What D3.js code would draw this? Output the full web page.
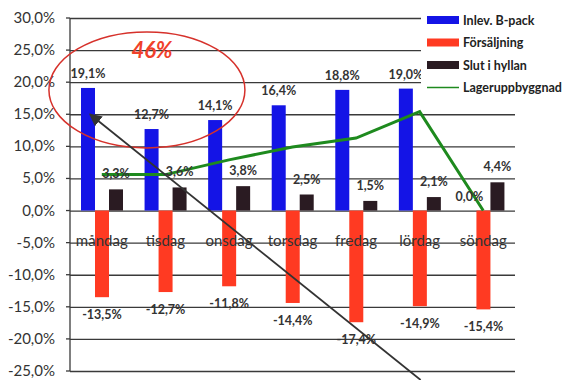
<!DOCTYPE html>
<html><head><meta charset="utf-8">
<script src="https://cdn.jsdelivr.net/npm/d3@7"></script>
<style>body{margin:0;background:#fff}svg{display:block}</style>
</head><body><svg id="c" width="567" height="380"></svg>
<script>
const categories = ["måndag","tisdag","onsdag","torsdag","fredag","lördag","söndag"];
const inlev = [19.1,12.7,14.1,16.4,18.8,19.0,0.0];
const forsaljning = [-13.5,-12.7,-11.8,-14.4,-17.4,-14.9,-15.4];
const slut = [3.3,3.6,3.8,2.5,1.5,2.1,4.4];
const lager = [5.6,5.6,7.9,9.9,11.3,15.4,0.0];
const seriesNames = ["Inlev. B-pack","Försäljning","Slut i hyllan","Lageruppbyggnad"];
const yTicks = [30,25,20,15,10,5,0,-5,-10,-15,-20,-25];
const annotationText = "46%";

(function(){
const colors = {"Inlev. B-pack":"#1414e6","Försäljning":"#ff3a22","Slut i hyllan":"#2a1b22","Lageruppbyggnad":"#1e8a1e"};
const svg = d3.select("#c");
const font = "Lato, 'Open Sans', sans-serif";
const loc = d3.formatLocale({decimal:",",thousands:" ",grouping:[3],currency:["",""],minus:"-"});
const f1 = loc.format(".1f");
const pct = v => f1(v) + "%";

const pLeft = 70, pRight = 515, pTop = 18, pBottom = 371;
const x = d3.scaleBand().domain(categories).range([pLeft, pRight]).padding(0);
const barSeries = seriesNames.slice(0,3);
const xs = d3.scaleBand().domain(barSeries).range([11, 53]).padding(0);
const y = d3.scaleLinear().domain([-25,30]).range([pBottom, pTop]);

// grid
const grid = svg.append("g").attr("transform",`translate(${pLeft},0)`)
  .call(d3.axisLeft(y).tickValues(yTicks).tickSize(-(pRight-pLeft)).tickSizeOuter(0).tickFormat(""));
grid.select(".domain").remove();
grid.selectAll("line").attr("stroke","#3a3a3a").attr("stroke-width",1.3);
svg.append("g").selectAll("line").data(yTicks).join("line")
  .attr("x1",pLeft-4).attr("x2",pLeft).attr("y1",d=>y(d)).attr("y2",d=>y(d)).attr("stroke","#3a3a3a").attr("stroke-width",1.3);
svg.append("line").attr("x1",pLeft).attr("x2",pLeft).attr("y1",y(30)).attr("y2",y(-25)).attr("stroke","#3a3a3a").attr("stroke-width",1.3);
svg.append("g").selectAll("text").data(yTicks).join("text")
  .attr("x",55).attr("y",d=>y(d)+5).attr("text-anchor","end")
  .attr("font-family",font).attr("font-size",15).attr("fill","#333").text(d=>pct(d));

const rows = categories.map((c,i)=>({c, vals:[inlev[i],forsaljning[i],slut[i]]}));
const g = svg.append("g");
rows.forEach(r=>{
  barSeries.forEach((s,j)=>{
    const v = r.vals[j];
    g.append("rect").attr("x",x(r.c)+xs(s)).attr("width",xs.bandwidth())
      .attr("y",y(Math.max(0,v))).attr("height",Math.abs(y(v)-y(0)))
      .attr("fill",colors[s]);
  });
});

svg.append("g").selectAll("text").data(categories).join("text")
  .attr("x",d=>x(d)+x.bandwidth()/2).attr("y",246).attr("text-anchor","middle")
  .attr("font-family",font).attr("font-size",15).attr("fill","#333").text(d=>d);

const line = d3.line().x((d,i)=>x(categories[i])+x.bandwidth()/2).y(d=>y(d));
svg.append("path").datum(lager).attr("d",line).attr("fill","none")
  .attr("stroke",colors["Lageruppbyggnad"]).attr("stroke-width",3);

const lab = svg.append("g").attr("font-family",font).attr("font-size",12.5).attr("font-weight","bold").attr("fill","#333").attr("text-anchor","middle");
rows.forEach(r=>{
  const [b,red,blk] = r.vals;
  lab.append("text").attr("x",x(r.c)+xs(barSeries[0])+xs.bandwidth()/2).attr("y",y(b)-10).text(pct(b));
  lab.append("text").attr("x",x(r.c)+xs(barSeries[1])+xs.bandwidth()/2).attr("y",y(red)+22).text(pct(red));
  lab.append("text").attr("x",x(r.c)+xs(barSeries[2])+xs.bandwidth()/2).attr("y",y(blk)-11).text(pct(blk));
});

const cx = (a,b,t)=> (x(a)+x.bandwidth()/2)*(1-t)+(x(b)+x.bandwidth()/2)*t;
svg.append("ellipse").attr("cx",cx("måndag","tisdag",0.71)).attr("cy",y(18.8))
  .attr("rx",98).attr("ry",58).attr("fill","none").attr("stroke","#d6312b").attr("stroke-width",1.5);
svg.append("text").attr("x",cx("måndag","tisdag",0.79)).attr("y",y(23.7))
  .attr("text-anchor","middle").attr("font-family",font).attr("font-size",22)
  .attr("font-weight","bold").attr("font-style","italic").attr("fill","#f0402a").text(annotationText);
svg.append("defs").append("marker").attr("id","ah").attr("viewBox","0 0 10 10").attr("refX",9).attr("refY",5)
  .attr("markerWidth",7).attr("markerHeight",7).attr("orient","auto-start-reverse")
  .append("path").attr("d","M0,0L10,5L0,10z").attr("fill","#333");
svg.append("line")
  .attr("x1",x("lördag")+x.bandwidth()/2+1).attr("y1",y(-26.4))
  .attr("x2",x("måndag")+xs(barSeries[0])+xs.bandwidth()/2+2).attr("y2",y(15))
  .attr("stroke","#333").attr("stroke-width",1.8).attr("marker-end","url(#ah)");

const lg = svg.append("g");
lg.append("rect").attr("x",421).attr("y",0).attr("width",146).attr("height",98).attr("fill","#fff");
seriesNames.forEach((s,i)=>{
  const cy = 20 + i*22.5;
  if (i<3) lg.append("rect").attr("x",427).attr("y",cy-4).attr("width",32).attr("height",8).attr("fill",colors[s]);
  else lg.append("line").attr("x1",427).attr("x2",459).attr("y1",cy).attr("y2",cy).attr("stroke",colors[s]).attr("stroke-width",1.5);
  lg.append("text").attr("x",463).attr("y",cy+4.5).attr("font-family",font).attr("font-size",12.5)
    .attr("font-weight","bold").attr("fill","#222").text(s);
});
})();
</script></body></html>
